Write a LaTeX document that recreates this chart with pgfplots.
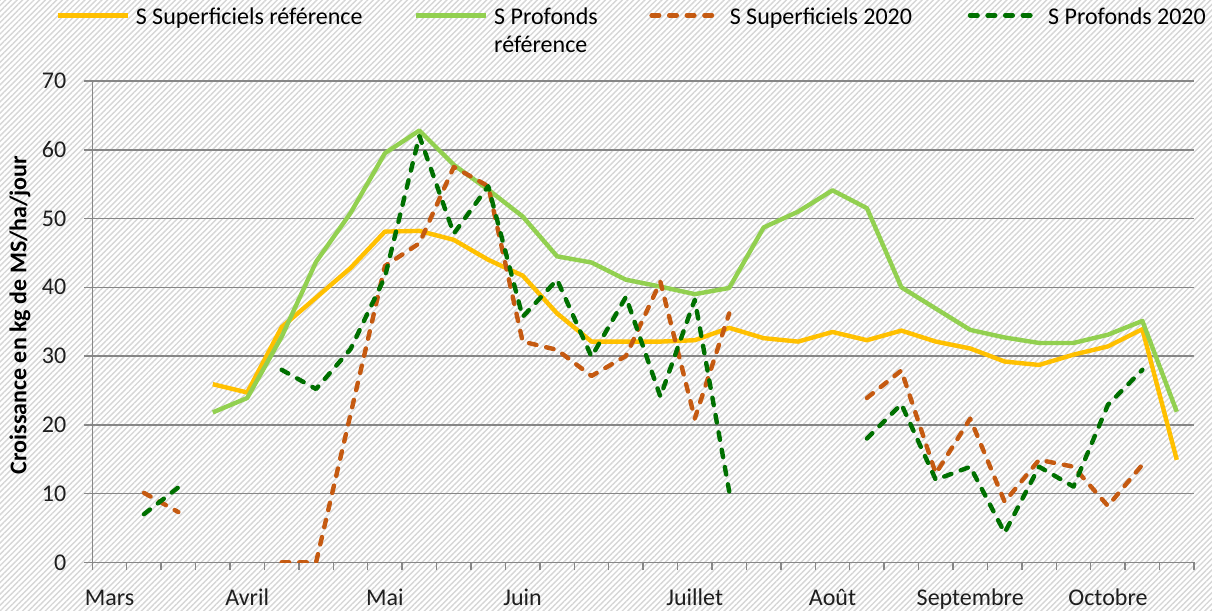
\documentclass[border=0pt]{standalone}
\usepackage{fontspec}
\setmainfont{Carlito}
\usepackage{pgfplots}
\usepackage{pgfplotstable}
\pgfplotsset{compat=1.18}
\usetikzlibrary{patterns.meta}
\definecolor{cYel}{RGB}{255,192,0}
\definecolor{cLGr}{RGB}{146,208,80}
\definecolor{cOra}{RGB}{197,90,17}
\definecolor{cDGr}{RGB}{0,112,0}
\definecolor{cGrid}{RGB}{134,134,134}
\definecolor{cTxt}{RGB}{30,30,30}

\pgfplotstableread{
i  sref  pref  s20  p20
0  nan   nan   nan  nan
1  nan   nan   10.1 7.0
2  nan   nan   7.3  10.9
3  25.9  21.8  nan  nan
4  24.7  23.9  nan  nan
5  34.2  32.8  0    28.0
6  38.5  43.7  0    25.2
7  42.8  50.8  21.5 31.0
8  48.1  59.5  43.1 41.5
9  48.2  62.8  46.4 62.0
10 46.9  57.8  57.5 47.8
11 44.0  54.2  54.7 54.7
12 41.7  50.3  32.1 35.7
13 36.2  44.5  30.9 41.1
14 32.1  43.6  27.1 29.9
15 32.1  41.1  30.0 38.6
16 32.1  40.1  40.8 24.1
17 32.3  39.0  20.9 38.2
18 34.1  39.9  36.2 10.3
19 32.6  48.7  nan  nan
20 32.1  51.0  nan  nan
21 33.5  54.1  nan  nan
22 32.3  51.5  23.9 18.0
23 33.7  40.0  27.9 23.0
24 32.1  36.9  12.9 12.0
25 31.1  33.8  20.9 13.9
26 29.2  32.7  8.8  4.3
27 28.7  31.9  14.9 13.9
28 30.2  31.9  13.9 11.0
29 31.4  33.1  8.2  22.9
30 33.9  35.1  14.2 28.0
31 14.9  21.9  nan  nan
}\data

\begin{document}
\begin{tikzpicture}[font=\fontsize{12bp}{14bp}\selectfont]
\fill[white] (0,0) rectangle (606bp,305.5bp);
\fill[pattern={Lines[angle=45,distance=2bp,line width=0.7bp]}, pattern color=black!16] (0,0) rectangle (606bp,305.5bp);
\useasboundingbox (0,0) rectangle (606bp,305.5bp);
\begin{axis}[
  at={(46.15bp,24.35bp)}, anchor=south west,
  scale only axis, width=550.85bp, height=240.65bp,
  xmin=-0.5, xmax=31.5, ymin=0, ymax=70,
  xtick={-0.5,0.5,...,31.5}, xticklabels={},
  extra x ticks={0,4,8,12,17,21,25,29},
  extra x tick labels={Mars,Avril,Mai,Juin,Juillet,Août,Septembre,Octobre},
  extra x tick style={major tick length=0pt, grid=none},
  ytick={0,10,...,70},
  ymajorgrids, grid style={cGrid, line width=0.75bp},
  axis x line*=bottom, axis y line*=left,
  axis line style={cGrid, line width=0.75bp},
  tick style={cGrid, line width=0.75bp},
  major tick length=4bp, tick align=outside,
  /pgf/number format/assume math mode=true,
  xticklabel style={anchor=base, yshift=-21.35bp, text=cTxt, inner sep=0pt},
  yticklabel style={anchor=east, inner sep=0pt, xshift=-8.8bp, text=cTxt},
  ylabel={\bfseries Croissance en kg de MS/ha/jour},
  every axis y label/.style={at={(axis description cs:-0.0656,0.5138)}, rotate=90, anchor=center, text=black},
  unbounded coords=jump,
  legend columns=4,
  legend cell align=left,
  legend image code/.code={\draw[#1] (0bp,4.65bp) -- (35bp,4.65bp);},
  legend style={at={(axis description cs:-0.0335,1.1517)}, anchor=north west,
    draw=none, fill=none, inner sep=0pt, outer sep=0pt,
    cells={anchor=base west}, nodes={inner sep=0pt, text=black},
    column sep=0pt,
    /tikz/every odd column/.append style={column sep=3bp}},
]
\addplot[cYel, line width=2.2bp, line join=round] table[x=i,y=sref]{\data};
\addlegendentry{\makebox[139bp][l]{S Superficiels référence}}
\addplot[cLGr, line width=2.2bp, line join=round] table[x=i,y=pref]{\data};
\addlegendentry{\parbox[t]{77.6bp}{S Profonds\\référence}}
\addplot[cOra, line width=2.2bp, line join=round, line cap=round, dash pattern=on 3.8bp off 5bp] table[x=i,y=s20]{\data};
\addlegendentry{\makebox[119bp][l]{S Superficiels 2020}}
\addplot[cDGr, line width=2.2bp, line join=round, line cap=round, dash pattern=on 3.8bp off 5bp] table[x=i,y=p20]{\data};
\addlegendentry{S Profonds 2020}
\end{axis}
\end{tikzpicture}
\end{document}
